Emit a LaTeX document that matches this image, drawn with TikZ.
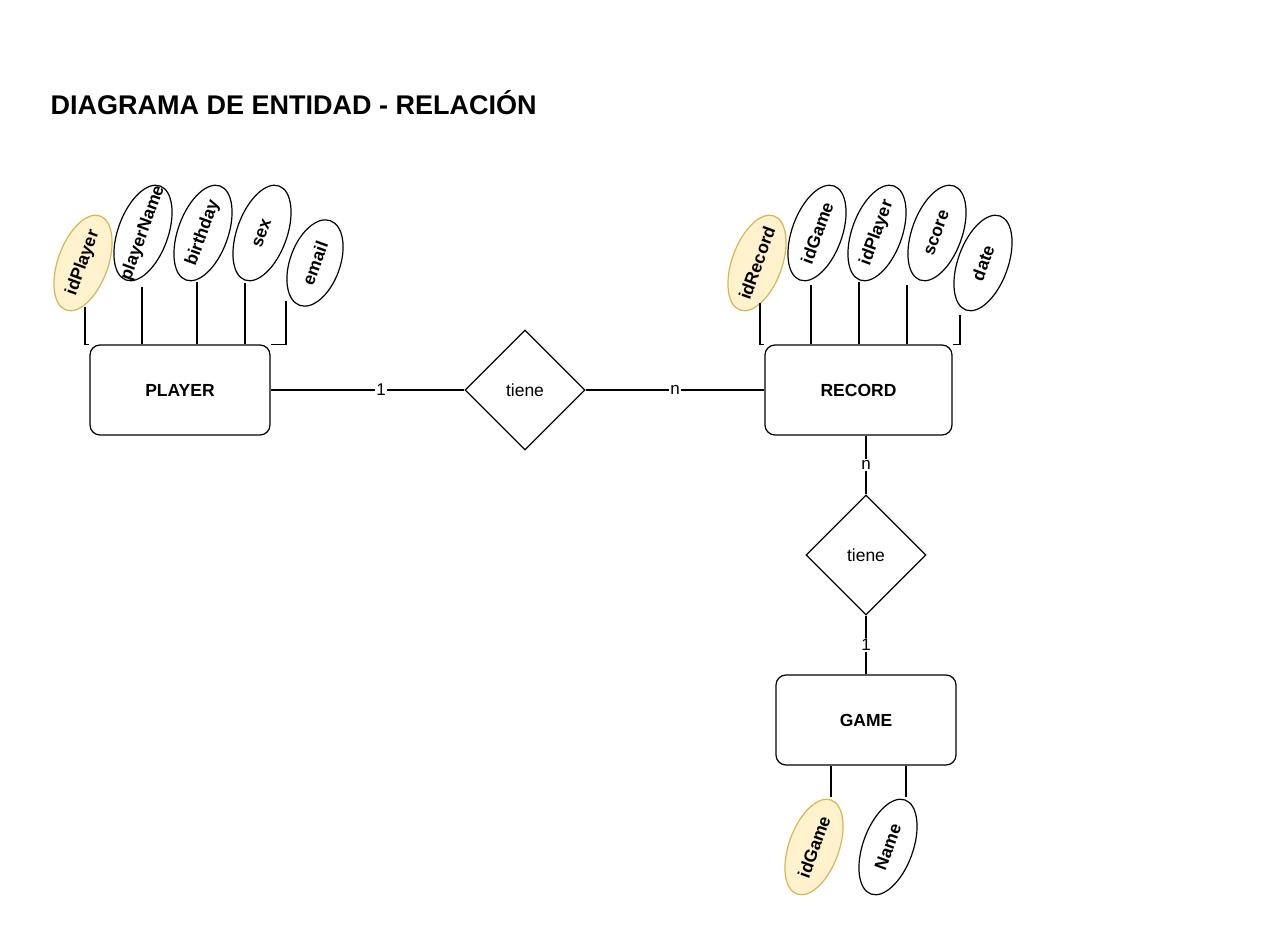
\documentclass[tikz,border=0pt]{standalone}
\usepackage{fontspec}
\setmainfont{Liberation Sans}
\usetikzlibrary{shapes.geometric}
\definecolor{keyfill}{HTML}{FFF2CC}
\definecolor{keydraw}{HTML}{D6B656}
\tikzset{
  entity/.style={draw, rounded corners=10pt, minimum width=180pt, minimum height=90pt,
    font=\fontsize{17.5}{21}\selectfont\bfseries},
  relation/.style={draw, diamond, aspect=1, inner sep=0pt, minimum width=120pt,
    minimum height=120pt, font=\fontsize{17.5}{21}\selectfont},
  attrib/.style={draw, ellipse, inner sep=0pt, minimum width=100pt, minimum height=50pt,
    rotate=70, font=\fontsize{17.5}{21}\selectfont\bfseries},
  keyattrib/.style={attrib, fill=keyfill, draw=keydraw},
  card/.style={fill=white, inner sep=1pt, font=\fontsize{17}{20}\selectfont}
}

\begin{document}
\begin{tikzpicture}[x=1pt, y=-1pt, line width=1.2pt]
\path[use as bounding box, fill=white] (0,0) rectangle (1275,947);
\node[anchor=base west, inner sep=0pt, font=\fontsize{27}{32}\selectfont\bfseries] (title)
  at (50,115) {DIAGRAMA DE ENTIDAD - RELACIÓN};

% entidades y relaciones
\node[entity] (player) at (180,390) {PLAYER};
\node[entity, minimum width=187pt] (record) at (858.5,390) {RECORD};
\node[entity] (game) at (866,720) {GAME};
\node[relation] (tieneA) at (525,390) {tiene};
\node[relation] (tieneB) at (866,555) {tiene};

\draw (player) -- node[card, pos=0.57] {1} (tieneA);
\draw (tieneA) -- node[card] {n} (record);
\draw (tieneB.north |- record.south) -- node[card] {n} (tieneB);
\draw (tieneB) -- node[card] {1} (tieneB.south |- game.north);

% atributos de PLAYER
\node[keyattrib] (idPlayer) at (83,263) {\makebox[0pt]{idPlayer}};
\node[attrib] (playerName) at (143,233) {\makebox[0pt]{playerName}};
\node[attrib] (birthday) at (203,233) {\makebox[0pt]{birthday}};
\node[attrib] (sex) at (262,233) {\makebox[0pt]{sex}};
\node[attrib, minimum width=90pt] (email) at (315,263) {\makebox[0pt]{email}};

\draw ([shift={(2,44)}]idPlayer.center) |- (player.north west);
\draw ([shift={(-1,54)}]playerName.center) -- ([xshift=-1pt]playerName.center |- player.north);
\draw ([shift={(-6,49)}]birthday.center) -- ([xshift=-6pt]birthday.center |- player.north);
\draw ([shift={(-17,50)}]sex.center) -- ([xshift=-17pt]sex.center |- player.north);
\draw ([shift={(-29,38)}]email.center) |- (player.north east);

% atributos de RECORD
\node[keyattrib] (idRecord) at (757,263) {\makebox[0pt]{idRecord}};
\node[attrib] (recGame) at (817,233) {\makebox[0pt]{idGame}};
\node[attrib] (recPlayer) at (877,233) {\makebox[0pt]{idPlayer}};
\node[attrib] (score) at (937,233) {\makebox[0pt]{score}};
\node[attrib] (date) at (983,263) {\makebox[0pt]{date}};

\draw ([shift={(3,40)}]idRecord.center) |- (record.north west);
\draw ([shift={(-6,52)}]recGame.center) -- ([xshift=-6pt]recGame.center |- record.north);
\draw ([shift={(-18,49)}]recPlayer.center) -- ([xshift=-18pt]recPlayer.center |- record.north);
\draw ([shift={(-30,52)}]score.center) -- ([xshift=-30pt]score.center |- record.north);
\draw ([shift={(-23,52)}]date.center) |- (record.north east);

% atributos de GAME
\node[keyattrib] (idGame) at (814,847) {\makebox[0pt]{idGame}};
\node[attrib] (gameName) at (888,847) {\makebox[0pt]{Name}};

\draw ([xshift=17pt]idGame.center |- game.south) -- ([shift={(17,-50)}]idGame.center);
\draw ([xshift=18pt]gameName.center |- game.south) -- ([shift={(18,-50)}]gameName.center);
\end{tikzpicture}
\end{document}
